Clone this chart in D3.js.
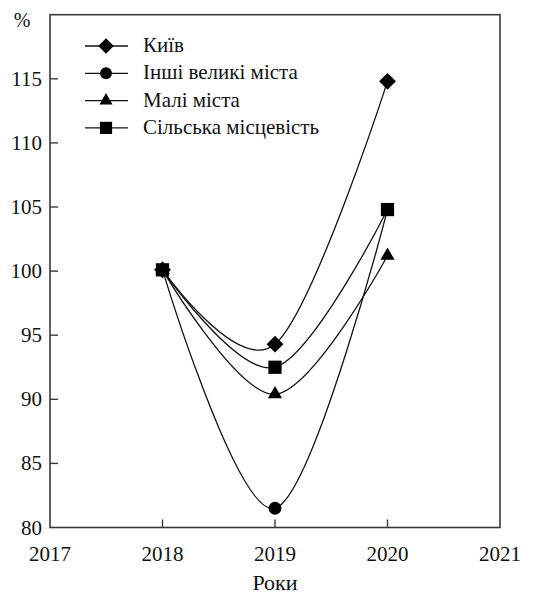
<!DOCTYPE html>
<html><head>
<script src="https://cdn.jsdelivr.net/npm/d3@7"></script>
</head><body><svg id="c" width="536" height="597"></svg>
<script>
const years = [2018, 2019, 2020];
const seriesNames = ["Київ", "Інші великі міста", "Малі міста", "Сільська місцевість"];
const kyiv = [100.1, 94.3, 114.8];
const bigCities = [100.1, 81.5, 104.8];
const smallCities = [100.1, 90.4, 101.2];
const rural = [100.1, 92.5, 104.8];
const xTicks = [2017, 2018, 2019, 2020, 2021];
const yTicks = [80, 85, 90, 95, 100, 105, 110, 115];
const symbolsList = [d3.symbolDiamond2, d3.symbolCircle, d3.symbolTriangle, d3.symbolSquare];

d3.select("body").style("margin", "0px").style("background", "#fff");
const FONT = '"Times New Roman"';
const series = [kyiv, bigCities, smallCities, rural];
const svg = d3.select("#c").style("display", "block");
const L = 50, R = 500, T = 14.7, B = 527.5;
const x = d3.scaleLinear().domain([2017, 2021]).range([L, R]);
const y = d3.scaleLinear().domain([80, 120]).range([B, T]);

function serif(sel, size) {
  sel.attr("font-size", size).style("font-family", FONT).attr("fill", "#111");
}

svg.append("rect").attr("x", L).attr("y", T).attr("width", R - L).attr("height", B - T)
  .attr("fill", "none").attr("stroke", "#3a3a3a").attr("stroke-width", 1.6);

// x ticks drawn manually from scale
const gx = svg.append("g");
gx.selectAll("line").data(xTicks.filter(d => d > 2017 && d < 2021)).enter().append("line")
  .attr("x1", d => x(d)).attr("x2", d => x(d)).attr("y1", B).attr("y2", B - 8)
  .attr("stroke", "#3a3a3a").attr("stroke-width", 1.4);
serif(gx.selectAll("text").data(xTicks).enter().append("text")
  .attr("x", d => x(d)).attr("y", B + 33).attr("text-anchor", "middle").text(d => d), 21);

const gy = svg.append("g");
gy.selectAll("line").data(yTicks.filter(d => d > 80)).enter().append("line")
  .attr("x1", L).attr("x2", L + 8).attr("y1", d => y(d)).attr("y2", d => y(d))
  .attr("stroke", "#3a3a3a").attr("stroke-width", 1.4);
serif(gy.selectAll("text").data(yTicks).enter().append("text")
  .attr("x", L - 8).attr("y", d => y(d) + 7).attr("text-anchor", "end").text(d => d), 21);

serif(svg.append("text").attr("x", 22).attr("y", 27).attr("text-anchor", "middle").text("%"), 20);
serif(svg.append("text").attr("x", x(2019)).attr("y", 590).attr("text-anchor", "middle").text("Роки"), 22);

const line = d3.line().x((d, i) => x(years[i])).y(d => y(d)).curve(d3.curveCatmullRom.alpha(0));
const sizes = [180, 130, 88, 175];

series.forEach(s => {
  svg.append("path").attr("d", line(s)).attr("fill", "none").attr("stroke", "#111").attr("stroke-width", 1.3);
});
series.forEach((s, k) => {
  svg.selectAll(null).data(s).enter().append("path")
    .attr("transform", (d, i) => `translate(${x(years[i])},${y(d)})`)
    .attr("d", d3.symbol().type(symbolsList[k]).size(sizes[k]))
    .attr("fill", "#000");
});

const lg = svg.append("g");
seriesNames.forEach((n, k) => {
  const yy = 46 + k * 27.3;
  lg.append("line").attr("x1", 85).attr("x2", 128).attr("y1", yy).attr("y2", yy).attr("stroke", "#111").attr("stroke-width", 1.3);
  lg.append("path").attr("transform", `translate(106,${yy})`).attr("d", d3.symbol().type(symbolsList[k]).size(sizes[k] * 0.85)).attr("fill", "#000");
  serif(lg.append("text").attr("x", 143).attr("y", yy + 6).text(n), 21);
});
</script></body></html>
